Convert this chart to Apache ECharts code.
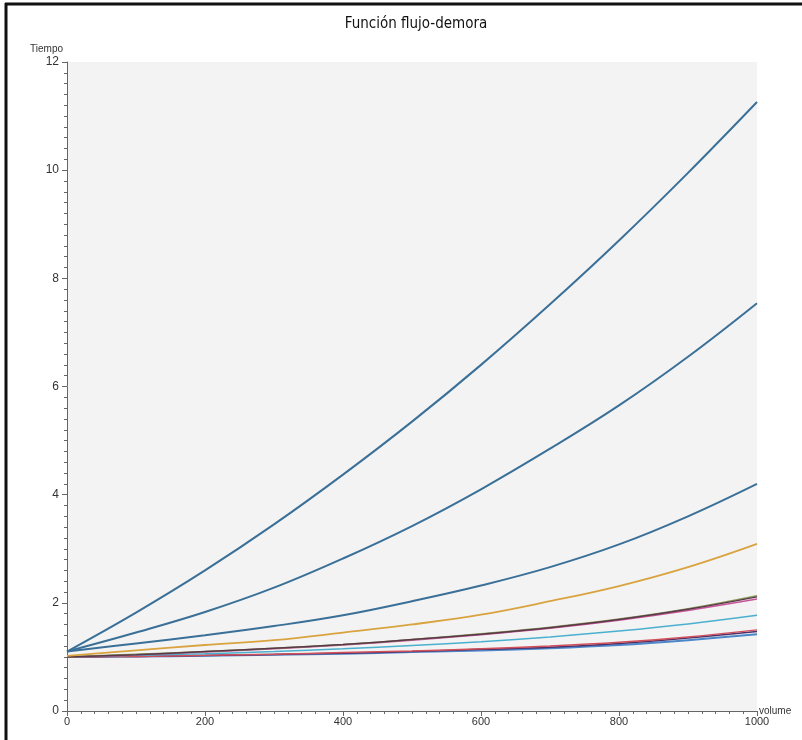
<!DOCTYPE html>
<html>
<head>
<meta charset="utf-8">
<script src="https://cdn.jsdelivr.net/npm/echarts@6/dist/echarts.min.js"></script>
<style>
html,body{margin:0;padding:0;background:#fff;}
#chart{width:802px;height:740px;}
</style>
</head>
<body>
<div id="chart"></div>
<script>
const xValues = [0, 100, 200, 300, 400, 500, 600, 700, 800, 900, 1000];
const xTicks = [0, 200, 400, 600, 800, 1000];
const yTicks = [0, 2, 4, 6, 8, 10, 12];

const serie1 = [1.10, 1.82, 2.60, 3.45, 4.37, 5.35, 6.40, 7.52, 8.70, 9.95, 11.26];
const serie2 = [1.10, 1.45, 1.83, 2.28, 2.82, 3.42, 4.10, 4.85, 5.65, 6.55, 7.54];
const serie3 = [1.10, 1.25, 1.40, 1.57, 1.77, 2.03, 2.32, 2.66, 3.08, 3.60, 4.20];
const serie4 = [1.02, 1.12, 1.22, 1.31, 1.45, 1.60, 1.78, 2.03, 2.31, 2.66, 3.09];
const serie5 = [1.00, 1.05, 1.10, 1.16, 1.23, 1.32, 1.43, 1.55, 1.70, 1.89, 2.13];
const serie6 = [1.00, 1.04, 1.10, 1.16, 1.23, 1.32, 1.42, 1.54, 1.69, 1.88, 2.11];
const serie7 = [1.00, 1.04, 1.09, 1.15, 1.22, 1.31, 1.41, 1.53, 1.68, 1.86, 2.07];
const serie8 = [1.00, 1.03, 1.06, 1.10, 1.15, 1.21, 1.28, 1.37, 1.48, 1.61, 1.77];
const serie9 = [1.00, 1.01, 1.03, 1.05, 1.08, 1.11, 1.15, 1.20, 1.27, 1.37, 1.50];
const serie10 = [1.00, 1.01, 1.025, 1.045, 1.07, 1.10, 1.14, 1.18, 1.25, 1.35, 1.47];
const serie11 = [1.00, 1.01, 1.02, 1.04, 1.06, 1.09, 1.12, 1.16, 1.22, 1.31, 1.42];

const seriesList = [
  {values: serie11, color: '#4a86c8', width: 2},
  {values: serie10, color: '#4b2f6b', width: 1.5},
  {values: serie9, color: '#d2505a', width: 1.5},
  {values: serie8, color: '#4bb0cf', width: 1.5},
  {values: serie7, color: '#c8559c', width: 1.5},
  {values: serie5, color: '#8a9a5b', width: 1.5},
  {values: serie6, color: '#5a3a48', width: 1.5},
  {values: serie4, color: '#d9a33f', width: 1.8},
  {values: serie3, color: '#3a7098', width: 2},
  {values: serie2, color: '#3a7098', width: 2},
  {values: serie1, color: '#3a7098', width: 2}
];

const chart = echarts.init(document.getElementById('chart'));
const font = 'Liberation Sans, Arial, sans-serif';

chart.setOption({
  animation: false,
  backgroundColor: '#ffffff',
  title: {
    text: 'Función flujo-demora',
    left: 411, top: 12, textAlign: 'center',
    textStyle: {fontFamily: 'DejaVu Sans Condensed, DejaVu Sans, sans-serif', fontSize: 15, fontWeight: 'normal', color: '#111'}
  },
  graphic: [
    {type: 'line', shape: {x1: 5, y1: 4, x2: 802, y2: 4}, style: {stroke: '#111', lineWidth: 3}},
    {type: 'line', shape: {x1: 6, y1: 3, x2: 6, y2: 740}, style: {stroke: '#111', lineWidth: 3}}
  ],
  grid: {left: 67, right: 45, top: 62, bottom: 29, show: true, backgroundColor: '#f3f3f3', borderWidth: 0,
         outerBoundsMode: 'none', containLabel: false},
  xAxis: {
    type: 'value', min: xTicks[0], max: xTicks[xTicks.length - 1], interval: xTicks[1] - xTicks[0],
    name: 'volume', nameLocation: 'end', nameGap: 2,
    nameTextStyle: {fontFamily: font, fontSize: 10, color: '#333', verticalAlign: 'middle', padding: [0, 0, 4, 0]},
    axisLine: {show: true, onZero: false, lineStyle: {color: '#666', width: 1}},
    axisTick: {show: true, length: 5, lineStyle: {color: '#666'}},
    minorTick: {show: true, splitNumber: 10, length: 3, lineStyle: {color: '#666'}},
    axisLabel: {fontFamily: font, fontSize: 11, color: '#333', margin: 5, formatter: v => String(v)},
    splitLine: {show: false}
  },
  yAxis: {
    type: 'value', min: yTicks[0], max: yTicks[yTicks.length - 1], interval: yTicks[1] - yTicks[0],
    name: 'Tiempo', nameLocation: 'end', nameGap: 8,
    nameTextStyle: {fontFamily: font, fontSize: 10, color: '#333', align: 'right', padding: [0, 4, 0, 0]},
    axisLine: {show: true, onZero: false, lineStyle: {color: '#666', width: 1}},
    axisTick: {show: true, length: 5, lineStyle: {color: '#666'}},
    minorTick: {show: true, splitNumber: 10, length: 3, lineStyle: {color: '#666'}},
    axisLabel: {fontFamily: font, fontSize: 12, color: '#333', margin: 8, formatter: v => String(v)},
    splitLine: {show: false}
  },
  series: seriesList.map(s => ({
    type: 'line',
    smooth: 0.4,
    symbol: 'none',
    data: xValues.map((x, i) => [x, s.values[i]]),
    lineStyle: {color: s.color, width: s.width},
    itemStyle: {color: s.color}
  }))
});
</script>
</body>
</html>
